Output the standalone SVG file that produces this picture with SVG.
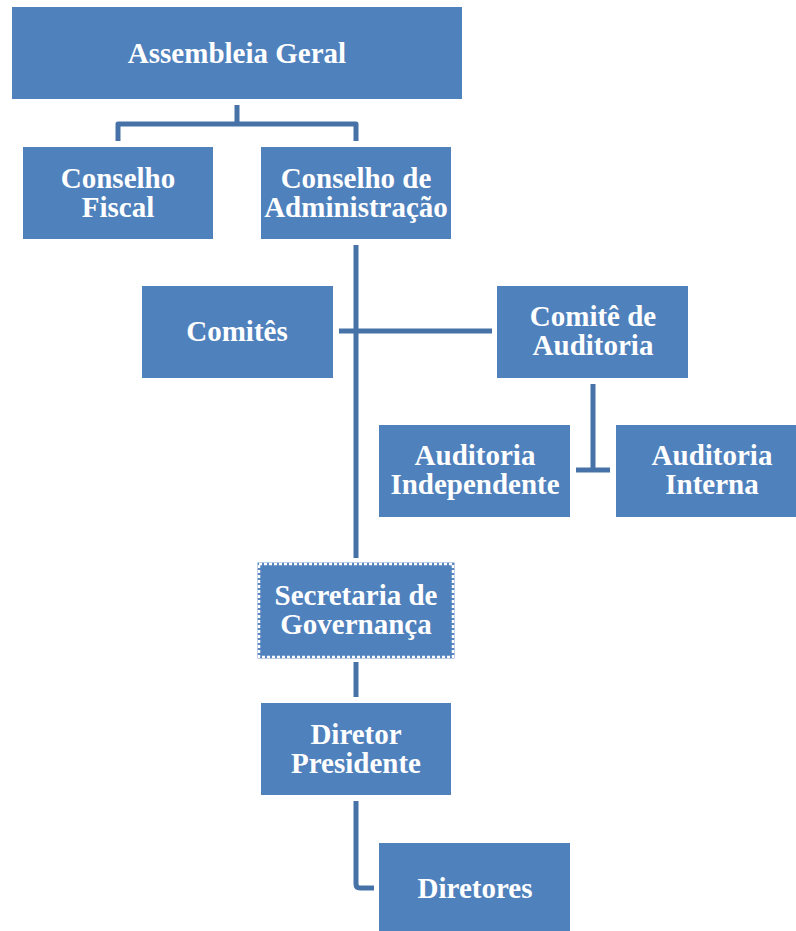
<svg xmlns="http://www.w3.org/2000/svg" width="796" height="931" viewBox="0 0 796 931">
  <style>
    .box { fill: #4F81BD; }
    .lbl { font-family: "Liberation Serif", "Times New Roman", serif; font-weight: bold; font-size: 29px; fill: #FFFFFF; text-anchor: middle; }
    .ln { fill: none; stroke: #4672A8; stroke-width: 5; }
  </style>
  <rect width="796" height="931" fill="#FFFFFF"/>

  <!-- connectors -->
  <g id="connectors">
    <path class="ln" d="M237 105 V124 M118 141 V124 H356 V141" stroke-linejoin="round"/>
    <path class="ln" d="M356 245 V558"/>
    <path class="ln" d="M339 331 H492"/>
    <path class="ln" d="M593 384 V470 M576 470 H610"/>
    <path class="ln" d="M356 662 V697"/>
    <path class="ln" d="M356 801 V884 Q356 888 360 888 H374"/>
  </g>

  <g id="assembleia-geral">
    <rect class="box" x="12" y="7" width="450" height="92"/>
    <text class="lbl" x="237" y="63">Assembleia Geral</text>
  </g>
  <g id="conselho-fiscal">
    <rect class="box" x="23" y="147" width="190" height="92"/>
    <text class="lbl" x="118" y="188">Conselho</text>
    <text class="lbl" x="118" y="217">Fiscal</text>
  </g>
  <g id="conselho-administracao">
    <rect class="box" x="261" y="147" width="190" height="92"/>
    <text class="lbl" x="356" y="188">Conselho de</text>
    <text class="lbl" x="356" y="217">Administração</text>
  </g>
  <g id="comites">
    <rect class="box" x="142" y="286" width="191" height="92"/>
    <text class="lbl" x="237" y="341">Comitês</text>
  </g>
  <g id="comite-auditoria">
    <rect class="box" x="497" y="286" width="191" height="92"/>
    <text class="lbl" x="593" y="326">Comitê de</text>
    <text class="lbl" x="593" y="355">Auditoria</text>
  </g>
  <g id="auditoria-independente">
    <rect class="box" x="379" y="425" width="191" height="92"/>
    <text class="lbl" x="475" y="465">Auditoria</text>
    <text class="lbl" x="475" y="494">Independente</text>
  </g>
  <g id="auditoria-interna">
    <rect class="box" x="616" y="425" width="192" height="92"/>
    <text class="lbl" x="712" y="465">Auditoria</text>
    <text class="lbl" x="712" y="494">Interna</text>
  </g>
  <g id="secretaria-governanca">
    <rect class="box" x="259" y="564" width="194" height="93" stroke="#5B86C0" stroke-width="3"/>
    <rect x="259" y="564" width="194" height="93" fill="none" stroke="#FFFFFF" stroke-width="2.5" stroke-dasharray="3 2"/>
    <text class="lbl" x="356" y="605">Secretaria de</text>
    <text class="lbl" x="356" y="634">Governança</text>
  </g>
  <g id="diretor-presidente">
    <rect class="box" x="261" y="703" width="190" height="92"/>
    <text class="lbl" x="356" y="744">Diretor</text>
    <text class="lbl" x="356" y="773">Presidente</text>
  </g>
  <g id="diretores">
    <rect class="box" x="379" y="843" width="191" height="92"/>
    <text class="lbl" x="475" y="898">Diretores</text>
  </g>
</svg>
